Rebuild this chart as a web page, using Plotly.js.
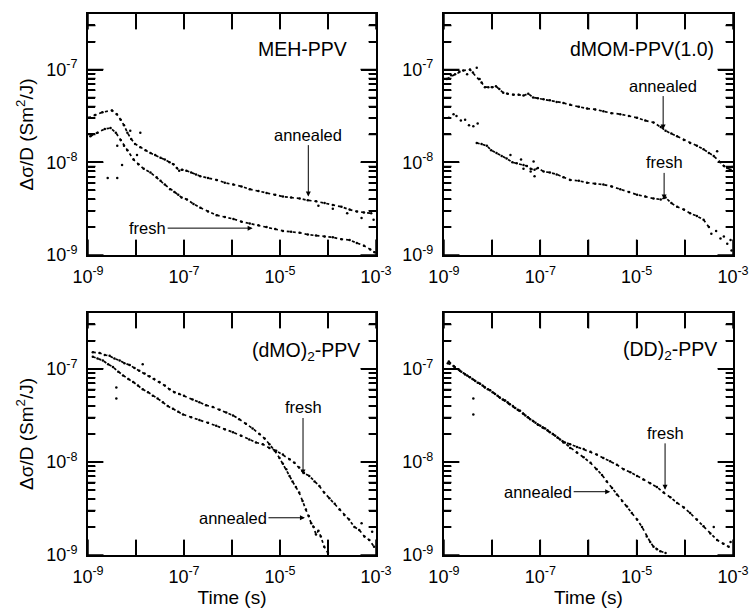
<!DOCTYPE html>
<html><head><meta charset="utf-8">
<script src="https://cdn.plot.ly/plotly-3.0.1.min.js"></script>
<style>html,body{margin:0;padding:0;background:#fff}</style>
</head><body><div id="chart" style="width:751px;height:609px"></div>
<script>
// ---------- Panel 1: MEH-PPV ----------
const mehAnnealedT = [1.0e-9,1.41e-9,2.0e-9,3.16e-9,3.98e-9,4.79e-9,5.62e-9,6.61e-9,7.94e-9,9.55e-9,1.23e-8,1.58e-8,2.0e-8,2.51e-8,3.24e-8,3.98e-8,5.01e-8,6.03e-8,7.08e-8,7.94e-8,9.12e-8,1.12e-7,1.41e-7,1.78e-7,2.19e-7,3.16e-7,4.79e-7,7.08e-7,1.07e-6,1.58e-6,2.34e-6,3.55e-6,5.25e-6,7.94e-6,1.15e-5,1.7e-5,2.57e-5,3.8e-5,5.62e-5,8.51e-5,1.26e-4,1.91e-4,2.82e-4,3.98e-4,5.62e-4,7.94e-4];
const mehAnnealedY = [3.02e-8,3.24e-8,3.47e-8,3.63e-8,3.31e-8,2.88e-8,2.51e-8,2.09e-8,1.78e-8,1.58e-8,1.45e-8,1.35e-8,1.26e-8,1.2e-8,1.12e-8,1.07e-8,1.0e-8,9.55e-9,8.71e-9,8.13e-9,8.32e-9,8.13e-9,7.76e-9,7.41e-9,7.08e-9,6.76e-9,6.46e-9,6.03e-9,5.75e-9,5.5e-9,5.13e-9,4.9e-9,4.68e-9,4.47e-9,4.27e-9,4.17e-9,4.07e-9,3.89e-9,3.8e-9,3.63e-9,3.47e-9,3.31e-9,3.09e-9,2.95e-9,2.88e-9,2.82e-9];
const mehFreshT = [1.12e-9,1.58e-9,2.24e-9,2.95e-9,3.8e-9,4.79e-9,5.62e-9,6.61e-9,8.91e-9,1.12e-8,1.45e-8,2.0e-8,2.69e-8,3.24e-8,3.98e-8,5.13e-8,6.31e-8,7.59e-8,8.91e-8,1.15e-7,1.58e-7,2.19e-7,3.16e-7,4.79e-7,7.08e-7,1.07e-6,1.58e-6,2.34e-6,3.55e-6,5.25e-6,7.94e-6,1.15e-5,1.7e-5,2.57e-5,3.8e-5,5.62e-5,8.51e-5,1.26e-4,1.91e-4,2.82e-4,3.98e-4,5.62e-4,7.59e-4,9.33e-4];
const mehFreshY = [1.91e-8,2.09e-8,2.29e-8,2.34e-8,2.09e-8,1.74e-8,1.51e-8,1.35e-8,1.07e-8,9.55e-9,8.51e-9,7.76e-9,6.92e-9,6.31e-9,5.75e-9,5.13e-9,4.79e-9,4.47e-9,4.17e-9,3.98e-9,3.55e-9,3.24e-9,2.95e-9,2.69e-9,2.57e-9,2.45e-9,2.29e-9,2.19e-9,2.09e-9,2.0e-9,1.91e-9,1.82e-9,1.78e-9,1.74e-9,1.66e-9,1.62e-9,1.58e-9,1.55e-9,1.48e-9,1.45e-9,1.35e-9,1.26e-9,1.15e-9,1.07e-9];
const mehScatterT = [6.31e-5,1.26e-4,2.51e-4,5.01e-4,8.91e-4,7.59e-9,1.23e-8,1.05e-8,5.13e-9,4.07e-9,4.07e-9,2.57e-9];
const mehScatterY = [3.39e-9,3.16e-9,2.82e-9,2.51e-9,2.4e-9,2.19e-8,2.09e-8,1.2e-8,9.33e-9,6.76e-9,1.51e-8,6.76e-9];

// ---------- Panel 2: dMOM-PPV(1.0) ----------
const dmomAnnealedT = [1.15e-9,1.7e-9,2.51e-9,3.47e-9,6.03e-9,7.08e-9,8.32e-9,1.0e-8,1.2e-8,1.41e-8,1.7e-8,2.09e-8,2.75e-8,3.55e-8,4.47e-8,5.62e-8,7.08e-8,8.91e-8,1.17e-7,1.58e-7,2.19e-7,3.02e-7,4.17e-7,6.31e-7,9.33e-7,1.38e-6,2.04e-6,3.02e-6,4.57e-6,6.92e-6,1.02e-5,1.51e-5,2.24e-5,3.16e-5,3.98e-5,5.25e-5,6.92e-5,9.55e-5,1.29e-4,1.78e-4,2.45e-4,3.16e-4,3.98e-4,5.5e-4,6.46e-4,7.59e-4,8.91e-4];
const dmomAnnealedY = [7.94e-8,8.91e-8,9.77e-8,1.0e-7,7.24e-8,6.46e-8,6.46e-8,6.46e-8,6.61e-8,6.17e-8,5.62e-8,5.5e-8,5.37e-8,5.37e-8,5.25e-8,5.5e-8,5.01e-8,4.9e-8,4.79e-8,4.68e-8,4.47e-8,4.37e-8,4.17e-8,3.98e-8,3.8e-8,3.72e-8,3.55e-8,3.39e-8,3.31e-8,3.16e-8,3.02e-8,2.82e-8,2.69e-8,2.4e-8,2.19e-8,2.04e-8,1.91e-8,1.74e-8,1.62e-8,1.51e-8,1.38e-8,1.26e-8,1.17e-8,1.0e-8,9.12e-9,8.71e-9,8.32e-9];
const dmomFreshT = [4.79e-9,6.03e-9,7.76e-9,9.55e-9,1.23e-8,1.58e-8,2.0e-8,2.63e-8,3.24e-8,4.47e-8,5.25e-8,6.31e-8,7.59e-8,8.91e-8,1.17e-7,1.58e-7,2.19e-7,3.02e-7,4.17e-7,6.31e-7,9.33e-7,1.38e-6,2.04e-6,3.02e-6,4.57e-6,6.92e-6,1.02e-5,1.51e-5,2.24e-5,3.16e-5,3.98e-5,5.25e-5,6.92e-5,9.55e-5,1.29e-4,1.78e-4,2.45e-4,3.16e-4];
const dmomFreshY = [1.62e-8,1.58e-8,1.51e-8,1.35e-8,1.26e-8,1.17e-8,1.1e-8,1.0e-8,9.77e-9,9.33e-9,9.12e-9,8.51e-9,8.32e-9,8.71e-9,7.94e-9,7.76e-9,7.41e-9,6.92e-9,6.46e-9,6.31e-9,6.03e-9,5.89e-9,5.75e-9,5.5e-9,5.13e-9,4.79e-9,4.47e-9,4.27e-9,4.07e-9,3.98e-9,4.17e-9,3.63e-9,3.31e-9,3.09e-9,2.82e-9,2.63e-9,2.4e-9,2.0e-9];
const dmomScatterT = [1.41e-9,2.09e-9,3.02e-9,3.98e-9,4.79e-9,5.5e-9,4.68e-4,9.55e-4,1.26e-9,1.58e-9,1.82e-9,2.24e-9,2.75e-9,3.31e-9,4.07e-9,5.01e-9,2.4e-8,3.98e-8,4.47e-8,6.31e-8,7.24e-8,7.59e-8,3.55e-4,4.47e-4,5.5e-4,6.46e-4,7.59e-4,8.91e-4,9.33e-4];
const dmomScatterY = [8.71e-8,9.55e-8,8.91e-8,9.33e-8,1.05e-7,7.94e-8,1.32e-8,8.91e-9,3.02e-8,3.31e-8,3.16e-8,2.82e-8,2.88e-8,2.51e-8,2.45e-8,2.63e-8,1.2e-8,1.07e-8,8.51e-9,7.94e-9,1.02e-8,7.08e-9,1.7e-9,1.82e-9,1.51e-9,1.58e-9,1.32e-9,1.45e-9,1.12e-9];

// ---------- Panel 3: (dMO)2-PPV ----------
const dmoAnnealedT = [1.26e-9,1.74e-9,2.24e-9,2.82e-9,3.55e-9,4.57e-9,5.75e-9,7.41e-9,9.33e-9,1.17e-8,1.51e-8,1.91e-8,2.4e-8,3.09e-8,3.98e-8,5.01e-8,6.31e-8,7.94e-8,1.0e-7,1.51e-7,2.09e-7,2.88e-7,3.98e-7,5.5e-7,7.59e-7,1.05e-6,1.41e-6,1.95e-6,2.69e-6,3.72e-6,4.79e-6,6.03e-6,7.76e-6,9.77e-6,1.15e-5,1.35e-5,1.58e-5,1.82e-5,2.14e-5,2.51e-5,2.95e-5,3.47e-5,3.98e-5,4.47e-5,5.01e-5,5.62e-5,6.31e-5,7.08e-5,8.32e-5,1.0e-4];
const dmoAnnealedY = [1.51e-7,1.48e-7,1.41e-7,1.38e-7,1.29e-7,1.23e-7,1.15e-7,1.1e-7,1.02e-7,9.55e-8,8.91e-8,8.32e-8,7.76e-8,7.24e-8,6.61e-8,6.03e-8,5.62e-8,5.37e-8,5.13e-8,4.68e-8,4.37e-8,4.07e-8,3.89e-8,3.63e-8,3.39e-8,3.16e-8,2.88e-8,2.57e-8,2.29e-8,2.0e-8,1.78e-8,1.55e-8,1.32e-8,1.1e-8,9.55e-9,8.32e-9,7.08e-9,6.17e-9,5.37e-9,4.68e-9,3.8e-9,3.09e-9,2.63e-9,2.19e-9,2.0e-9,1.66e-9,1.82e-9,1.58e-9,1.23e-9,1.05e-9];
const dmoFreshT = [1.26e-9,1.58e-9,2.04e-9,2.63e-9,3.31e-9,4.27e-9,5.37e-9,6.92e-9,8.71e-9,1.1e-8,1.38e-8,1.78e-8,2.24e-8,2.82e-8,3.63e-8,4.57e-8,5.89e-8,7.59e-8,9.55e-8,1.41e-7,2.09e-7,3.16e-7,4.68e-7,7.08e-7,1.05e-6,1.55e-6,2.29e-6,3.16e-6,4.37e-6,6.03e-6,8.32e-6,1.15e-5,1.58e-5,2.0e-5,2.51e-5,3.16e-5,4.07e-5,5.25e-5,6.61e-5,8.32e-5,1.07e-4,1.38e-4,1.74e-4,2.19e-4,2.75e-4,3.55e-4,4.47e-4,5.75e-4,7.24e-4,9.12e-4];
const dmoFreshY = [1.35e-7,1.29e-7,1.23e-7,1.12e-7,1.05e-7,9.33e-8,8.51e-8,7.76e-8,7.24e-8,6.61e-8,6.03e-8,5.62e-8,5.13e-8,4.79e-8,4.37e-8,3.98e-8,3.72e-8,3.47e-8,3.24e-8,3.02e-8,2.82e-8,2.63e-8,2.45e-8,2.24e-8,2.09e-8,1.91e-8,1.74e-8,1.62e-8,1.55e-8,1.41e-8,1.32e-8,1.2e-8,1.07e-8,9.77e-9,8.71e-9,7.59e-9,7.08e-9,6.17e-9,5.5e-9,4.68e-9,4.07e-9,3.55e-9,3.09e-9,2.69e-9,2.4e-9,2.0e-9,1.86e-9,1.58e-9,1.45e-9,1.23e-9];
const dmoScatterT = [3.89e-9,3.89e-9,1.38e-8,5.01e-4,8.32e-4];
const dmoScatterY = [6.31e-8,4.79e-8,1.12e-7,2.19e-9,1.78e-9];

// ---------- Panel 4: (DD)2-PPV ----------
const ddFreshT = [1.2e-9,1.58e-9,2.14e-9,2.75e-9,3.47e-9,4.47e-9,5.62e-9,7.08e-9,9.12e-9,1.15e-8,1.45e-8,1.86e-8,2.34e-8,3.02e-8,3.8e-8,4.9e-8,6.17e-8,7.94e-8,1.0e-7,1.26e-7,1.58e-7,2.04e-7,2.57e-7,3.24e-7,4.17e-7,5.75e-7,7.94e-7,1.1e-6,1.48e-6,2.04e-6,2.82e-6,3.89e-6,5.37e-6,7.41e-6,1.02e-5,1.38e-5,1.91e-5,2.63e-5,3.63e-5,5.01e-5,6.92e-5,9.55e-5,1.29e-4,1.78e-4,2.45e-4,3.39e-4,4.68e-4,6.31e-4,8.13e-4];
const ddFreshY = [1.15e-7,1.07e-7,9.55e-8,8.71e-8,8.13e-8,7.41e-8,6.92e-8,6.31e-8,5.89e-8,5.37e-8,4.9e-8,4.57e-8,4.17e-8,3.8e-8,3.55e-8,3.16e-8,2.88e-8,2.63e-8,2.45e-8,2.29e-8,2.09e-8,1.91e-8,1.74e-8,1.62e-8,1.55e-8,1.45e-8,1.38e-8,1.29e-8,1.2e-8,1.1e-8,1.02e-8,9.33e-9,8.32e-9,7.76e-9,7.08e-9,6.46e-9,5.89e-9,5.37e-9,4.68e-9,4.17e-9,3.63e-9,3.24e-9,2.82e-9,2.4e-9,2.04e-9,1.7e-9,1.45e-9,1.32e-9,1.23e-9];
const ddAnnealedT = [1.26e-9,1.66e-9,2.29e-9,3.02e-9,3.89e-9,5.01e-9,6.31e-9,8.13e-9,1.02e-8,1.29e-8,1.66e-8,2.09e-8,2.69e-8,3.39e-8,4.37e-8,5.5e-8,7.08e-8,8.91e-8,1.12e-7,1.41e-7,1.82e-7,2.29e-7,3.02e-7,4.17e-7,5.75e-7,7.94e-7,1.1e-6,1.48e-6,1.91e-6,2.4e-6,3.09e-6,3.89e-6,5.01e-6,6.31e-6,7.94e-6,1.02e-5,1.29e-5,1.62e-5,1.91e-5,2.24e-5,2.63e-5,3.09e-5,3.98e-5];
const ddAnnealedY = [1.2e-7,1.05e-7,9.33e-8,8.51e-8,7.76e-8,7.08e-8,6.61e-8,6.03e-8,5.62e-8,5.13e-8,4.68e-8,4.37e-8,3.98e-8,3.63e-8,3.31e-8,3.02e-8,2.75e-8,2.51e-8,2.34e-8,2.19e-8,2.0e-8,1.82e-8,1.62e-8,1.41e-8,1.26e-8,1.12e-8,9.77e-9,8.32e-9,7.24e-9,6.17e-9,5.25e-9,4.47e-9,3.8e-9,3.31e-9,2.82e-9,2.4e-9,2.0e-9,1.58e-9,1.38e-9,1.23e-9,1.15e-9,1.1e-9,1.05e-9];
const ddScatterT = [4.07e-9,4.07e-9,3.98e-4,8.91e-4];
const ddScatterY = [4.79e-8,3.24e-8,2.0e-9,1.38e-9];

// ---------- Ticks & labels ----------
const xTickVals = [1e-9,1e-8,1e-7,1e-6,1e-5,1e-4,1e-3];
const xTickText = ['10<sup>-9</sup>','','10<sup>-7</sup>','','10<sup>-5</sup>','','10<sup>-3</sup>'];
const yTickVals = [1e-9,1e-8,1e-7];
const yTickText = ['10<sup>-9</sup>','10<sup>-8</sup>','10<sup>-7</sup>'];
const yMinorVals = [2e-9,3e-9,4e-9,5e-9,6e-9,7e-9,8e-9,9e-9,2e-8,3e-8,4e-8,5e-8,6e-8,7e-8,8e-8,9e-8,2e-7,3e-7];
const panelNames = ['MEH-PPV','dMOM-PPV(1.0)','(dMO)<sub>2</sub>-PPV','(DD)<sub>2</sub>-PPV'];
const yTitle = 'Δσ/D (Sm<sup>2</sup>/J)';
const xTitle = 'Time (s)';

const FONT = 'Liberation Sans, Arial, Helvetica, sans-serif';
const MAJOR_LEN = 16, MINOR_LEN = 8;   // tick lengths in px

function ax(n, p) { return n === 1 ? p : p + n; }
function line(x, y, n, name) {
  return {x: x, y: y, mode: 'lines+markers', type: 'scatter', name: name,
          line: {color: '#000', width: 1.7, dash: 'dot'}, marker: {size: 2.5, color: '#000'},
          xaxis: ax(n, 'x'), yaxis: ax(n, 'y'), showlegend: false};
}
function dots(x, y, n) {
  return {x: x, y: y, mode: 'markers', type: 'scatter', marker: {size: 2.5, color: '#000'},
          xaxis: ax(n, 'x'), yaxis: ax(n, 'y'), showlegend: false};
}
const data = [
  line(mehAnnealedT, mehAnnealedY, 1, 'annealed'), line(mehFreshT, mehFreshY, 1, 'fresh'), dots(mehScatterT, mehScatterY, 1),
  line(dmomAnnealedT, dmomAnnealedY, 2, 'annealed'), line(dmomFreshT, dmomFreshY, 2, 'fresh'), dots(dmomScatterT, dmomScatterY, 2),
  line(dmoAnnealedT, dmoAnnealedY, 3, 'annealed'), line(dmoFreshT, dmoFreshY, 3, 'fresh'), dots(dmoScatterT, dmoScatterY, 3),
  line(ddAnnealedT, ddAnnealedY, 4, 'annealed'), line(ddFreshT, ddFreshY, 4, 'fresh'), dots(ddScatterT, ddScatterY, 4)
];

const xDomains = [[0, 0.4465], [0.5519, 1], [0, 0.4465], [0.5519, 1]];
const yDomains = [[0.5545, 1], [0.5545, 1], [0, 0.4473], [0, 0.4473]];

const layout = {
  width: 751, height: 609,
  margin: {l: 88, r: 18, t: 14, b: 54},
  paper_bgcolor: '#fff', plot_bgcolor: 'rgba(0,0,0,0)',
  font: {family: FONT, color: '#000', size: 18},
  showlegend: false,
  annotations: []
};
for (let i = 0; i < 4; i++) {
  const n = i + 1;
  const xa = {
    type: 'log', range: [-9, -3], domain: xDomains[i], anchor: ax(n, 'y'),
    tickmode: 'array', tickvals: xTickVals, ticktext: xTickText,
    ticks: 'inside', ticklen: 15, tickwidth: 1.5, tickcolor: '#000',
    showline: true, linewidth: 2, linecolor: '#000', mirror: 'ticks',
    showgrid: false, zeroline: false, ticklabelstandoff: 4,
    tickfont: {family: FONT, size: 18, color: '#000'}
  };
  const ya = {
    type: 'log', range: [-9, -6.4], domain: yDomains[i], anchor: ax(n, 'x'),
    tickmode: 'array', tickvals: yTickVals, ticktext: yTickText,
    ticks: 'inside', ticklen: 15, tickwidth: 1.5, tickcolor: '#000',
    showline: true, linewidth: 2, linecolor: '#000', mirror: 'ticks',
    showgrid: false, zeroline: false, ticklabelstandoff: 5,
    tickfont: {family: FONT, size: 18, color: '#000'},
    minor: {tickmode: 'array', tickvals: yMinorVals, ticks: 'inside', ticklen: 7, tickwidth: 1.5, tickcolor: '#000'}
  };
  if (i >= 2) xa.title = {text: xTitle, font: {family: FONT, size: 19, color: '#000'}, standoff: 2};
  if (i % 2 === 0) ya.title = {text: yTitle, font: {family: FONT, size: 19, color: '#000'}, standoff: 8};
  layout[ax(n, 'xaxis')] = xa;
  layout[ax(n, 'yaxis')] = ya;

  // inward tick marks on all four frame sides as head-less annotation arrows, from the tick arrays
  const tick = {text: '', showarrow: true, arrowhead: 0, arrowwidth: 1.5, arrowcolor: '#000',
                standoff: 0, startstandoff: 0, borderpad: 0, font: {size: 1}, axref: 'pixel', ayref: 'pixel'};
  xTickVals.forEach(v => {
    const lx = Math.log10(v);
    layout.annotations.push(Object.assign({}, tick, {xref: ax(n, 'x'), yref: ax(n, 'y') + ' domain', x: lx, y: 0, ax: 0, ay: -MAJOR_LEN}));
    layout.annotations.push(Object.assign({}, tick, {xref: ax(n, 'x'), yref: ax(n, 'y') + ' domain', x: lx, y: 1, ax: 0, ay: MAJOR_LEN}));
  });
  yTickVals.map(v => [v, MAJOR_LEN]).concat(yMinorVals.map(v => [v, MINOR_LEN])).forEach(([v, L]) => {
    const ly = Math.log10(v);
    layout.annotations.push(Object.assign({}, tick, {xref: ax(n, 'x') + ' domain', yref: ax(n, 'y'), x: 0, y: ly, ax: L, ay: 0}));
    layout.annotations.push(Object.assign({}, tick, {xref: ax(n, 'x') + ' domain', yref: ax(n, 'y'), x: 1, y: ly, ax: -L, ay: 0}));
  });
}

const labelPos = [[0.905, 0.855], [0.94, 0.855], [0.952, 0.843], [0.95, 0.847]];
for (let i = 0; i < 4; i++) {
  const n = i + 1;
  layout.annotations.push({
    text: panelNames[i], xref: ax(n, 'x') + ' domain', yref: ax(n, 'y') + ' domain',
    x: labelPos[i][0], y: labelPos[i][1], xanchor: 'right', yanchor: 'middle', showarrow: false,
    font: {family: FONT, size: 19.5, color: '#000'}
  });
}
const arrows = [
  [1, 'annealed', -4.41, -8.37, 0, -62],
  [1, 'fresh', -5.57, -8.71, -105, 0],
  [2, 'annealed', -4.45, -7.647, 0, -44],
  [2, 'fresh', -4.43, -8.40, 0, -37],
  [3, 'fresh', -4.52, -8.135, 0, -67],
  [3, 'annealed', -4.48, -8.6, -72, 0],
  [4, 'fresh', -4.41, -8.30, 0, -57],
  [4, 'annealed', -5.55, -8.32, -72, 0]
];
arrows.forEach(a => {
  const n = a[0];
  layout.annotations.push({
    text: a[1], xref: ax(n, 'x'), yref: ax(n, 'y'),
    x: a[2], y: a[3], ax: a[4], ay: a[5], axref: 'pixel', ayref: 'pixel',
    showarrow: true, arrowhead: 2, arrowsize: 1, arrowwidth: 1, arrowcolor: '#000', standoff: 0,
    font: {family: FONT, size: 16.5, color: '#000'}
  });
});

Plotly.newPlot('chart', data, layout, {displayModeBar: false});
</script></body></html>
